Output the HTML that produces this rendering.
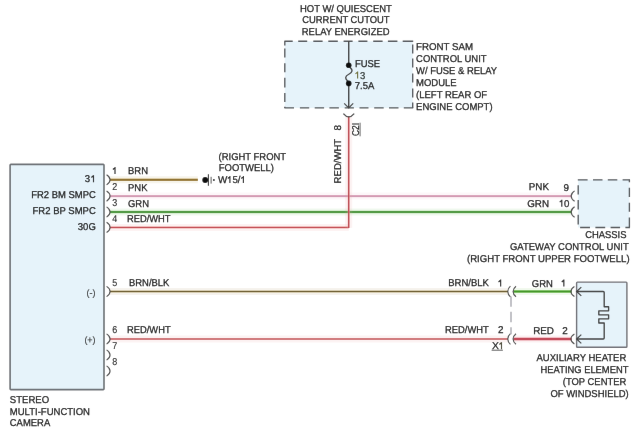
<!DOCTYPE html>
<html><head><meta charset="utf-8"><title>Wiring diagram</title>
<style>
html,body{margin:0;padding:0;background:#fff;}
svg{display:block;font-family:"Liberation Sans",sans-serif;}
text{text-rendering:geometricPrecision;}
</style></head>
<body>
<svg width="640" height="430" viewBox="0 0 640 430">
<defs><filter id="soft" x="0" y="0" width="640" height="430" filterUnits="userSpaceOnUse"><feConvolveMatrix order="3" kernelMatrix="0.0009 0.0278 0.0009 0.0278 0.8855 0.0278 0.0009 0.0278 0.0009" edgeMode="duplicate" preserveAlpha="true"/></filter></defs>
<g filter="url(#soft)">
<rect x="0" y="0" width="640" height="430" fill="#fff"/>
<rect x="10.1" y="164.4" width="93.9" height="225.2" rx="0.8" fill="#e6f3fa" stroke="#6c7074" stroke-width="1.6"/>
<rect x="284.7" y="41.2" width="128" height="66.7" fill="#e6f3fa" stroke="none"/>
<path d="M284.4 41.2 H292.7 M298.2 41.2 H307.2 M313.3 41.2 H322.6 M328.3 41.2 H337.8 M343.6 41.2 H352.6 M358.4 41.2 H367.4 M373.2 41.2 H382.6 M387.9 41.2 H397.4 M402.7 41.2 H413.2" stroke="#52565a" stroke-width="1.35" fill="none"/>
<path d="M284.4 107.9 H294 M299.9 107.9 H309.2 M314.7 107.9 H324.1 M329.4 107.9 H338.9 M344.7 107.9 H353.9 M359.5 107.9 H368.5 M374.2 107.9 H383.7 M389 107.9 H398.5 M403.8 107.9 H413.2" stroke="#52565a" stroke-width="1.35" fill="none"/>
<path d="M284.8 41.2 V45.6 M284.8 48.6 V57.6 M284.8 63.2 V72.2 M284.8 77.7 V87.4 M284.8 93 V102 M284.8 106.8 V107.9" stroke="#52565a" stroke-width="1.35" fill="none"/>
<path d="M412.7 44.5 V53.5 M412.7 58.5 V67.5 M412.7 73.4 V82.4 M412.7 88.4 V97.4 M412.7 102.4 V107.9" stroke="#52565a" stroke-width="1.35" fill="none"/>
<rect x="578.1" y="179.8" width="51.3" height="47.7" fill="#e6f3fa" stroke="none"/>
<path d="M577.8 179.8 H587.6 M593 179.8 H602.5 M607.8 179.8 H617.3 M622.6 179.8 H630" stroke="#52565a" stroke-width="1.35" fill="none"/>
<path d="M580.1 227.5 H590 M595.4 227.5 H605.2 M610.6 227.5 H620.1 M625.4 227.5 H630" stroke="#52565a" stroke-width="1.35" fill="none"/>
<path d="M578.2 185.2 V194.5 M578.2 199.9 V209.4 M578.2 214.8 V224.4" stroke="#52565a" stroke-width="1.35" fill="none"/>
<path d="M629.4 179.8 V182.3 M629.4 187.8 V196.9 M629.4 202.7 V211.8 M629.4 217.6 V227.5" stroke="#52565a" stroke-width="1.35" fill="none"/>
<rect x="576.6" y="282.1" width="50.3" height="65.1" rx="0.8" fill="#e6f3fa" stroke="#707076" stroke-width="1.4"/>
<path d="M110 179.8 L197.8 179.8" stroke="#c4a868" stroke-width="7" stroke-opacity="0.13" fill="none"/>
<path d="M110 179.8 L197.8 179.8" stroke="#c4a868" stroke-width="2.4" fill="none"/>
<path d="M110 179.8 L197.8 179.8" stroke="#7d5f1c" stroke-width="1.3" fill="none"/>
<path d="M110 196.1 L571.5 196.1" stroke="#efc3d3" stroke-width="7" stroke-opacity="0.13" fill="none"/>
<path d="M110 196.1 L571.5 196.1" stroke="#efc3d3" stroke-width="2.4" fill="none"/>
<path d="M110 196.1 L571.5 196.1" stroke="#c78aa6" stroke-width="1.3" fill="none"/>
<path d="M110 212.0 L571.5 212.0" stroke="#8ecb7c" stroke-width="7" stroke-opacity="0.13" fill="none"/>
<path d="M110 212.0 L571.5 212.0" stroke="#8ecb7c" stroke-width="2.4" fill="none"/>
<path d="M110 212.0 L571.5 212.0" stroke="#38892b" stroke-width="1.3" fill="none"/>
<path d="M110 227.4 L348.7 227.4" stroke="#eca2a0" stroke-width="7" stroke-opacity="0.13" fill="none"/>
<path d="M110 227.4 L348.7 227.4" stroke="#eca2a0" stroke-width="2.0" fill="none"/>
<path d="M110 227.4 L348.7 227.4" stroke="#bf4046" stroke-width="1.0" fill="none"/>
<path d="M348.7 227.9 L348.7 116.6" stroke="#e9a4a6" stroke-width="7" stroke-opacity="0.13" fill="none"/>
<path d="M348.7 227.9 L348.7 116.6" stroke="#e9a4a6" stroke-width="1.9" fill="none"/>
<path d="M348.7 227.9 L348.7 116.6" stroke="#b63a42" stroke-width="1.1" fill="none"/>
<path d="M110 291.5 L508 291.5" stroke="#b6a674" stroke-width="7" stroke-opacity="0.13" fill="none"/>
<path d="M110 291.5 L508 291.5" stroke="#b6a674" stroke-width="2.2" fill="none"/>
<path d="M110 291.5 L508 291.5" stroke="#6a5a26" stroke-width="1.2" fill="none"/>
<path d="M110 339.0 L508 339.0" stroke="#e6a4a6" stroke-width="7" stroke-opacity="0.13" fill="none"/>
<path d="M110 339.0 L508 339.0" stroke="#e6a4a6" stroke-width="2.2" fill="none"/>
<path d="M110 339.0 L508 339.0" stroke="#b94c52" stroke-width="1.0" fill="none"/>
<path d="M513.5 291.5 L571.5 291.5" stroke="#9ad27c" stroke-width="7" stroke-opacity="0.13" fill="none"/>
<path d="M513.5 291.5 L571.5 291.5" stroke="#9ad27c" stroke-width="2.8" fill="none"/>
<path d="M513.5 291.5 L571.5 291.5" stroke="#3f9428" stroke-width="1.4" fill="none"/>
<path d="M513.5 339.0 L571.5 339.0" stroke="#e6909a" stroke-width="7" stroke-opacity="0.13" fill="none"/>
<path d="M513.5 339.0 L571.5 339.0" stroke="#e6909a" stroke-width="2.8" fill="none"/>
<path d="M513.5 339.0 L571.5 339.0" stroke="#b42c3c" stroke-width="1.4" fill="none"/>
<path d="M106.6 174.70000000000002 C111.19999999999999 177.60000000000002 111.19999999999999 182.0 106.6 184.9" stroke="#4a4a4a" stroke-width="1.1" fill="none"/>
<path d="M106.6 191.0 C111.19999999999999 193.9 111.19999999999999 198.29999999999998 106.6 201.2" stroke="#4a4a4a" stroke-width="1.1" fill="none"/>
<path d="M106.6 206.9 C111.19999999999999 209.8 111.19999999999999 214.2 106.6 217.1" stroke="#4a4a4a" stroke-width="1.1" fill="none"/>
<path d="M106.6 222.3 C111.19999999999999 225.20000000000002 111.19999999999999 229.6 106.6 232.5" stroke="#4a4a4a" stroke-width="1.1" fill="none"/>
<path d="M106.6 286.4 C111.19999999999999 289.3 111.19999999999999 293.7 106.6 296.6" stroke="#4a4a4a" stroke-width="1.1" fill="none"/>
<path d="M106.6 333.9 C111.19999999999999 336.8 111.19999999999999 341.2 106.6 344.1" stroke="#4a4a4a" stroke-width="1.1" fill="none"/>
<path d="M106.6 349.9 C111.19999999999999 352.8 111.19999999999999 357.2 106.6 360.1" stroke="#4a4a4a" stroke-width="1.1" fill="none"/>
<path d="M106.6 365.9 C111.19999999999999 368.8 111.19999999999999 373.2 106.6 376.1" stroke="#4a4a4a" stroke-width="1.1" fill="none"/>
<path d="M574.6 190.9 C570.0 193.9 570.0 198.29999999999998 574.6 201.29999999999998" stroke="#4a4a4a" stroke-width="1.1" fill="none"/>
<path d="M574.6 206.8 C570.0 209.8 570.0 214.2 574.6 217.2" stroke="#4a4a4a" stroke-width="1.1" fill="none"/>
<path d="M574.4 286.5 C569.8 289.3 569.8 293.7 574.4 296.5" stroke="#4a4a4a" stroke-width="1.1" fill="none"/>
<path d="M574.4 334.0 C569.8 336.8 569.8 341.2 574.4 344.0" stroke="#4a4a4a" stroke-width="1.1" fill="none"/>
<path d="M510.4 286.2 C506.9 289.3 506.9 293.7 510.4 296.8" stroke="#4a4a4a" stroke-width="1.1" fill="none"/>
<path d="M516.0 286.2 C512.1 289.3 512.1 293.7 516.0 296.8" stroke="#4a4a4a" stroke-width="1.1" fill="none"/>
<path d="M510.4 333.7 C506.9 336.8 506.9 341.2 510.4 344.3" stroke="#4a4a4a" stroke-width="1.1" fill="none"/>
<path d="M516.0 333.7 C512.1 336.8 512.1 341.2 516.0 344.3" stroke="#4a4a4a" stroke-width="1.1" fill="none"/>
<path d="M511 296.5 V306.8 M511 311.8 V322.2 M511 327.3 V334.3" stroke="#9a9aa2" stroke-width="1.2" fill="none"/>
<path d="M348.7 41.3 V65.2" stroke="#404040" stroke-width="1.45" fill="none"/>
<path d="M348.7 65.2 C349 68 352.4 68 352 71 C351.5 74.5 346 74 345.7 77.5 C345.5 80.5 348.5 80.5 348.7 83.2" stroke="#404040" stroke-width="1.35" fill="none"/>
<path d="M348.7 83.2 V108" stroke="#404040" stroke-width="1.45" fill="none"/>
<circle cx="348.7" cy="65.2" r="2.8" fill="#111"/><circle cx="348.7" cy="83.4" r="2.8" fill="#111"/>
<path d="M344.2 103.3 L348.7 108 L353.2 103.3" stroke="#484848" stroke-width="1.2" fill="none"/>
<path d="M343.4 113.7 Q348.7 120.2 354.2 113.7" stroke="#484848" stroke-width="1.3" fill="none"/>
<circle cx="205.2" cy="180.0" r="2.9" fill="#111"/>
<path d="M208.4 174.2 V185.8" stroke="#333" stroke-width="1.1"/>
<path d="M211.1 176.8 V183.6" stroke="#5a5a5a" stroke-width="1"/>
<circle cx="213.9" cy="180.0" r="1" fill="#333"/>
<path d="M577 291.5 H603.2 Q604.2 291.5 604.2 292.5 V306.7 H608.6 V310.8 H598.8 V314.8 H608.6 V318.8 H598.8 V323 H604.2 V338.0 Q604.2 339.0 603.2 339.0 H577" stroke="#404040" stroke-width="1.35" fill="none" stroke-linejoin="round"/>
<path d="M581.3 287.1 L576.6 291.5 L581.3 295.9" stroke="#404040" stroke-width="1.2" fill="none"/>
<path d="M581.3 334.6 L576.6 339.0 L581.3 343.4" stroke="#404040" stroke-width="1.2" fill="none"/>
<text x="300" y="11.8" font-size="9.9" fill="#111" text-anchor="start" stroke="#111" stroke-width="0.25" textLength="91.8" lengthAdjust="spacingAndGlyphs">HOT W/ QUIESCENT</text>
<text x="302.3" y="23" font-size="9.9" fill="#111" text-anchor="start" stroke="#111" stroke-width="0.25" textLength="87.2" lengthAdjust="spacingAndGlyphs">CURRENT CUTOUT</text>
<text x="301.8" y="34.5" font-size="9.9" fill="#111" text-anchor="start" stroke="#111" stroke-width="0.25" textLength="87.7" lengthAdjust="spacingAndGlyphs">RELAY ENERGIZED</text>
<text x="354.9" y="66.5" font-size="9.9" fill="#111" text-anchor="start" stroke="#111" stroke-width="0.25" textLength="25.1" lengthAdjust="spacingAndGlyphs">FUSE</text>
<path d="M357.60 78.5 V71.50 M357.70 71.85 L355.50 73.85" stroke="#6f7036" stroke-width="1.15" fill="none"/>
<text x="360.0" y="78.5" font-size="9.9" fill="#2c3430" text-anchor="start" stroke="#2c3430" stroke-width="0.25" textLength="5.3" lengthAdjust="spacingAndGlyphs">3</text>
<text x="354.8" y="88.5" font-size="9.9" fill="#111" text-anchor="start" stroke="#111" stroke-width="0.25" textLength="19.5" lengthAdjust="spacingAndGlyphs">7.5A</text>
<text x="416.1" y="49.5" font-size="9.9" fill="#111" text-anchor="start" stroke="#111" stroke-width="0.25" textLength="57" lengthAdjust="spacingAndGlyphs">FRONT SAM</text>
<text x="416.1" y="61.5" font-size="9.9" fill="#111" text-anchor="start" stroke="#111" stroke-width="0.25" textLength="70.5" lengthAdjust="spacingAndGlyphs">CONTROL UNIT</text>
<text x="416.1" y="73.5" font-size="9.9" fill="#111" text-anchor="start" stroke="#111" stroke-width="0.25" textLength="81" lengthAdjust="spacingAndGlyphs">W/ FUSE &amp; RELAY</text>
<text x="416.1" y="85.5" font-size="9.9" fill="#111" text-anchor="start" stroke="#111" stroke-width="0.25" textLength="40.5" lengthAdjust="spacingAndGlyphs">MODULE</text>
<text x="416.1" y="97.5" font-size="9.9" fill="#111" text-anchor="start" stroke="#111" stroke-width="0.25" textLength="71" lengthAdjust="spacingAndGlyphs">(LEFT REAR OF</text>
<text x="416.1" y="109.5" font-size="9.9" fill="#111" text-anchor="start" stroke="#111" stroke-width="0.25" textLength="76.5" lengthAdjust="spacingAndGlyphs">ENGINE COMPT)</text>
<text x="218.6" y="160.2" font-size="9.9" fill="#111" text-anchor="start" stroke="#111" stroke-width="0.25" textLength="67.5" lengthAdjust="spacingAndGlyphs">(RIGHT FRONT</text>
<text x="218.8" y="170.8" font-size="9.9" fill="#111" text-anchor="start" stroke="#111" stroke-width="0.25" textLength="55.2" lengthAdjust="spacingAndGlyphs">FOOTWELL)</text>
<text x="218.1" y="183.1" font-size="9.9" fill="#111" text-anchor="start" stroke="#111" stroke-width="0.25" textLength="9.3" lengthAdjust="spacingAndGlyphs">W</text>
<path d="M229.90 183.1 V176.10 M230.00 176.45 L227.80 178.45" stroke="#262626" stroke-width="1.15" fill="none"/>
<text x="232.5" y="183.1" font-size="9.9" fill="#111" text-anchor="start" stroke="#111" stroke-width="0.25" textLength="8.0" lengthAdjust="spacingAndGlyphs">5/</text>
<path d="M243.40 183.1 V176.10 M243.50 176.45 L241.30 178.45" stroke="#262626" stroke-width="1.15" fill="none"/>
<text x="84.7" y="182.2" font-size="9.9" fill="#111" text-anchor="start" stroke="#111" stroke-width="0.25" textLength="5.3" lengthAdjust="spacingAndGlyphs">3</text>
<path d="M93.50 182.2 V175.20 M93.60 175.55 L91.40 177.55" stroke="#262626" stroke-width="1.15" fill="none"/>
<text x="95.8" y="198" font-size="9.9" fill="#111" text-anchor="end" stroke="#111" stroke-width="0.25" textLength="64.6" lengthAdjust="spacingAndGlyphs">FR2 BM SMPC</text>
<text x="95.8" y="213.6" font-size="9.9" fill="#111" text-anchor="end" stroke="#111" stroke-width="0.25" textLength="63.3" lengthAdjust="spacingAndGlyphs">FR2 BP SMPC</text>
<text x="95.8" y="230.3" font-size="9.9" fill="#111" text-anchor="end" stroke="#111" stroke-width="0.25" textLength="18" lengthAdjust="spacingAndGlyphs">30G</text>
<text x="95.6" y="295.7" font-size="9.4" fill="#333" text-anchor="end" stroke="#333" stroke-width="0.15" textLength="9.0" lengthAdjust="spacingAndGlyphs">(-)</text>
<text x="95.6" y="343.2" font-size="9.4" fill="#333" text-anchor="end" stroke="#333" stroke-width="0.15" textLength="11.2" lengthAdjust="spacingAndGlyphs">(+)</text>
<path d="M115.00 174.1 V167.10 M115.10 167.45 L112.90 169.45" stroke="#262626" stroke-width="1.15" fill="none"/>
<text x="112.2" y="190.4" font-size="9.9" fill="#222" text-anchor="start" stroke="#222" stroke-width="0.12" textLength="5.0" lengthAdjust="spacingAndGlyphs">2</text>
<text x="112.2" y="206.3" font-size="9.9" fill="#222" text-anchor="start" stroke="#222" stroke-width="0.12" textLength="5.0" lengthAdjust="spacingAndGlyphs">3</text>
<text x="112.2" y="221.7" font-size="9.9" fill="#222" text-anchor="start" stroke="#222" stroke-width="0.12" textLength="5.0" lengthAdjust="spacingAndGlyphs">4</text>
<text x="112.2" y="285.8" font-size="9.9" fill="#222" text-anchor="start" stroke="#222" stroke-width="0.12" textLength="5.0" lengthAdjust="spacingAndGlyphs">5</text>
<text x="112.2" y="333.3" font-size="9.9" fill="#222" text-anchor="start" stroke="#222" stroke-width="0.12" textLength="5.0" lengthAdjust="spacingAndGlyphs">6</text>
<text x="112.2" y="349.3" font-size="9.9" fill="#222" text-anchor="start" stroke="#222" stroke-width="0.12" textLength="5.0" lengthAdjust="spacingAndGlyphs">7</text>
<text x="112.2" y="365.3" font-size="9.9" fill="#222" text-anchor="start" stroke="#222" stroke-width="0.12" textLength="5.0" lengthAdjust="spacingAndGlyphs">8</text>
<text x="128" y="174.2" font-size="9.9" fill="#111" text-anchor="start" stroke="#111" stroke-width="0.25" textLength="20" lengthAdjust="spacingAndGlyphs">BRN</text>
<text x="128" y="190.6" font-size="9.9" fill="#111" text-anchor="start" stroke="#111" stroke-width="0.25" textLength="19.5" lengthAdjust="spacingAndGlyphs">PNK</text>
<text x="128" y="206.7" font-size="9.9" fill="#111" text-anchor="start" stroke="#111" stroke-width="0.25" textLength="21" lengthAdjust="spacingAndGlyphs">GRN</text>
<text x="127" y="222.4" font-size="9.9" fill="#111" text-anchor="start" stroke="#111" stroke-width="0.25" textLength="43.5" lengthAdjust="spacingAndGlyphs">RED/WHT</text>
<text x="129" y="285.8" font-size="9.9" fill="#111" text-anchor="start" stroke="#111" stroke-width="0.25" textLength="40.4" lengthAdjust="spacingAndGlyphs">BRN/BLK</text>
<text x="127.1" y="333.2" font-size="9.9" fill="#111" text-anchor="start" stroke="#111" stroke-width="0.25" textLength="43.5" lengthAdjust="spacingAndGlyphs">RED/WHT</text>
<text x="528.8" y="190.4" font-size="9.9" fill="#111" text-anchor="start" stroke="#111" stroke-width="0.25" textLength="20.2" lengthAdjust="spacingAndGlyphs">PNK</text>
<text x="569" y="190.8" font-size="9.9" fill="#111" text-anchor="end" stroke="#111" stroke-width="0.25">9</text>
<text x="527.2" y="206.7" font-size="9.9" fill="#111" text-anchor="start" stroke="#111" stroke-width="0.25" textLength="21.8" lengthAdjust="spacingAndGlyphs">GRN</text>
<path d="M561.80 206.8 V199.80 M561.90 200.15 L559.70 202.15" stroke="#262626" stroke-width="1.15" fill="none"/>
<text x="563.9" y="206.8" font-size="9.9" fill="#111" text-anchor="start" stroke="#111" stroke-width="0.25" textLength="5.4" lengthAdjust="spacingAndGlyphs">0</text>
<text x="448.2" y="286.1" font-size="9.9" fill="#111" text-anchor="start" stroke="#111" stroke-width="0.25" textLength="40.8" lengthAdjust="spacingAndGlyphs">BRN/BLK</text>
<path d="M500.65 286.6 V279.60 M500.75 279.95 L498.55 281.95" stroke="#262626" stroke-width="1.15" fill="none"/>
<text x="445" y="333.3" font-size="9.9" fill="#111" text-anchor="start" stroke="#111" stroke-width="0.25" textLength="43.7" lengthAdjust="spacingAndGlyphs">RED/WHT</text>
<text x="498" y="333.3" font-size="9.9" fill="#111" text-anchor="start" stroke="#111" stroke-width="0.25">2</text>
<text x="491.9" y="349.2" font-size="9.9" fill="#111" text-anchor="start" stroke="#111" stroke-width="0.25" textLength="6.9" lengthAdjust="spacingAndGlyphs">X</text>
<path d="M501.50 349.2 V342.20 M501.60 342.55 L499.40 344.55" stroke="#4a4632" stroke-width="1.15" fill="none"/>
<path d="M491.6 350.2 H502.9" stroke="#4a4a4a" stroke-width="0.9"/>
<text x="531.8" y="286.5" font-size="9.9" fill="#111" text-anchor="start" stroke="#111" stroke-width="0.25" textLength="21" lengthAdjust="spacingAndGlyphs">GRN</text>
<path d="M563.85 286.6 V279.60 M563.95 279.95 L561.75 281.95" stroke="#262626" stroke-width="1.15" fill="none"/>
<text x="533.2" y="333.6" font-size="9.9" fill="#111" text-anchor="start" stroke="#111" stroke-width="0.25" textLength="20.8" lengthAdjust="spacingAndGlyphs">RED</text>
<text x="562.2" y="333.7" font-size="9.9" fill="#111" text-anchor="start" stroke="#111" stroke-width="0.25">2</text>
<text x="585.2" y="237.7" font-size="9.9" fill="#111" text-anchor="start" stroke="#111" stroke-width="0.25" textLength="41.3" lengthAdjust="spacingAndGlyphs">CHASSIS</text>
<text x="510" y="249.7" font-size="9.9" fill="#111" text-anchor="start" stroke="#111" stroke-width="0.25" textLength="118.7" lengthAdjust="spacingAndGlyphs">GATEWAY CONTROL UNIT</text>
<text x="467" y="261.7" font-size="9.9" fill="#111" text-anchor="start" stroke="#111" stroke-width="0.25" textLength="162.6" lengthAdjust="spacingAndGlyphs">(RIGHT FRONT UPPER FOOTWELL)</text>
<text x="536.5" y="361.2" font-size="9.9" fill="#111" text-anchor="start" stroke="#111" stroke-width="0.25" textLength="89.8" lengthAdjust="spacingAndGlyphs">AUXILIARY HEATER</text>
<text x="540.6" y="372.9" font-size="9.9" fill="#111" text-anchor="start" stroke="#111" stroke-width="0.25" textLength="87.8" lengthAdjust="spacingAndGlyphs">HEATING ELEMENT</text>
<text x="562.8" y="385.0" font-size="9.9" fill="#111" text-anchor="start" stroke="#111" stroke-width="0.25" textLength="63.5" lengthAdjust="spacingAndGlyphs">(TOP CENTER</text>
<text x="550.4" y="396.7" font-size="9.9" fill="#111" text-anchor="start" stroke="#111" stroke-width="0.25" textLength="78.3" lengthAdjust="spacingAndGlyphs">OF WINDSHIELD)</text>
<text x="9.8" y="403" font-size="9.9" fill="#111" text-anchor="start" stroke="#111" stroke-width="0.25" textLength="39.3" lengthAdjust="spacingAndGlyphs">STEREO</text>
<text x="9.8" y="414.7" font-size="9.9" fill="#111" text-anchor="start" stroke="#111" stroke-width="0.25" textLength="80.2" lengthAdjust="spacingAndGlyphs">MULTI-FUNCTION</text>
<text x="9.8" y="426.4" font-size="9.9" fill="#111" text-anchor="start" stroke="#111" stroke-width="0.25" textLength="40.4" lengthAdjust="spacingAndGlyphs">CAMERA</text>
<g transform="translate(341.4 183.4) rotate(-90)">
<text x="0" y="0" font-size="9.9" fill="#111" text-anchor="start" stroke="#111" stroke-width="0.25" textLength="44.6" lengthAdjust="spacingAndGlyphs">RED/WHT</text>
<text x="52.8" y="0" font-size="9.9" fill="#111" text-anchor="start" stroke="#111" stroke-width="0.25">8</text>
</g>
<g transform="translate(359.3 136.0) rotate(-90)">
<text x="0" y="0" font-size="9.9" fill="#111" text-anchor="start" stroke="#111" stroke-width="0.25" textLength="13" lengthAdjust="spacingAndGlyphs">C2I</text>
<path d="M-0.3 0.8 H13.3" stroke="#444" stroke-width="0.8"/>
</g>
</g>
</svg>
</body></html>
